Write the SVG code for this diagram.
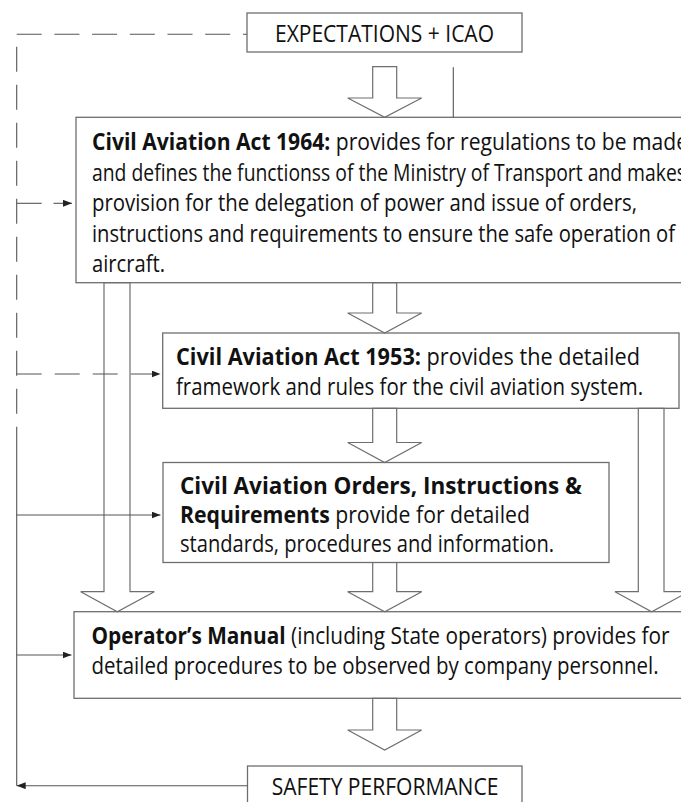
<svg xmlns="http://www.w3.org/2000/svg" width="681" height="802" viewBox="0 0 681 802">
  <style>
    .box { fill: #ffffff; stroke: #6e6e6e; stroke-width: 1.3; }
    .hollow { fill: none; stroke: #6e6e6e; stroke-width: 1.2; stroke-linejoin: miter; }
    .txt { font-family: "Open Sans", "Noto Sans", "Liberation Sans", sans-serif; font-size: 24px; fill: #111111; }
    .cap { font-family: "Open Sans", "Noto Sans", "Liberation Sans", sans-serif; font-size: 23.5px; fill: #111111; }
    .b { font-weight: bold; }
    .ln { fill: none; stroke: #555555; stroke-width: 1.1; }
    .dash { stroke-dasharray: 25 13; }
  </style>
  <defs>
    <marker id="ah" markerUnits="userSpaceOnUse" markerWidth="9" markerHeight="7" refX="9" refY="3.5" orient="auto">
      <path d="M0,0 L9,3.5 L0,7 z" fill="#222222"/>
    </marker>
  </defs>

  <rect width="681" height="802" fill="#ffffff"/>

  <!-- boxes -->
  <g id="expectations">
    <rect class="box" x="247" y="13" width="275" height="39"/>
    <text class="cap" x="275" y="41.7" textLength="219" lengthAdjust="spacingAndGlyphs">EXPECTATIONS + ICAO</text>
  </g>

  <g id="act1964">
    <rect class="box" x="76" y="117.3" width="620" height="165.4"/>
    <text class="txt" x="92" y="150" textLength="596" lengthAdjust="spacingAndGlyphs"><tspan class="b">Civil Aviation Act 1964:</tspan> provides for regulations to be made</text>
    <text class="txt" x="92" y="180.5" textLength="594" lengthAdjust="spacingAndGlyphs">and defines the functionss of the Ministry of Transport and makes</text>
    <text class="txt" x="92" y="211" textLength="545" lengthAdjust="spacingAndGlyphs">provision for the delegation of power and issue of orders,</text>
    <text class="txt" x="92" y="241.5" textLength="583" lengthAdjust="spacingAndGlyphs">instructions and requirements to ensure the safe operation of</text>
    <text class="txt" x="92" y="272" textLength="73" lengthAdjust="spacingAndGlyphs">aircraft.</text>
  </g>

  <g id="act1953">
    <rect class="box" x="162.7" y="333" width="516.3" height="75.3"/>
    <text class="txt" x="176" y="365" textLength="464" lengthAdjust="spacingAndGlyphs"><tspan class="b">Civil Aviation Act 1953:</tspan> provides the detailed</text>
    <text class="txt" x="176" y="395" textLength="467" lengthAdjust="spacingAndGlyphs">framework and rules for the civil aviation system.</text>
  </g>

  <g id="orders">
    <rect class="box" x="163" y="462.5" width="446" height="100"/>
    <text class="txt" x="180" y="493.5" textLength="402" lengthAdjust="spacingAndGlyphs"><tspan class="b">Civil Aviation Orders, Instructions &amp;</tspan></text>
    <text class="txt" x="180" y="522.5" textLength="350" lengthAdjust="spacingAndGlyphs"><tspan class="b">Requirements</tspan> provide for detailed</text>
    <text class="txt" x="180" y="551.5" textLength="374" lengthAdjust="spacingAndGlyphs">standards, procedures and information.</text>
  </g>

  <g id="operator">
    <rect class="box" x="74" y="611.7" width="622" height="86.6"/>
    <text class="txt" x="91.5" y="643.5" textLength="578" lengthAdjust="spacingAndGlyphs"><tspan class="b">Operator’s Manual</tspan> (including State operators) provides for</text>
    <text class="txt" x="91.5" y="673.5" textLength="567" lengthAdjust="spacingAndGlyphs">detailed procedures to be observed by company personnel.</text>
  </g>

  <g id="safety">
    <rect class="box" x="247.5" y="766" width="274.5" height="50"/>
    <text class="cap" x="271.7" y="795" textLength="226.7" lengthAdjust="spacingAndGlyphs">SAFETY PERFORMANCE</text>
  </g>

  <!-- connectors -->
  <g id="connectors">
    <!-- hollow block arrows down the centre -->
    <path class="hollow" d="M372.7,66.7 H396.7 V98 H421.7 L384.7,117.3 L347.7,98 H372.7 Z"/>
    <path class="hollow" d="M372.7,282.7 H396.7 V313 H421.7 L384.7,333 L347.7,313 H372.7 Z"/>
    <path class="hollow" d="M372.7,408.3 H396.7 V442.5 H421.7 L384.7,462.5 L347.7,442.5 H372.7 Z"/>
    <path class="hollow" d="M372.7,562.5 H396.7 V591.7 H421.7 L384.7,611.7 L347.7,591.7 H372.7 Z"/>
    <path class="hollow" d="M372.7,698.3 H396.7 V730 H421.7 L384.7,750 L347.7,730 H372.7 Z"/>

    <!-- long bypass arrows -->
    <path class="hollow" d="M104,282.7 H130 V591.7 H154.3 L117.3,611.7 L80.7,591.7 H104 Z"/>
    <path class="hollow" d="M638.3,408.3 H664 V591.7 H688.7 L651.7,611.7 L615,591.7 H638.3 Z"/>

    <!-- thin line beside the first arrow -->
    <line class="ln" x1="453.3" y1="67.3" x2="453.3" y2="117.3"/>

    <!-- feedback loop on the left -->
    <line class="ln dash" x1="16.7" y1="34.3" x2="247" y2="34.3" style="stroke-dasharray:25 12.7"/>
    <line class="ln dash" x1="16.7" y1="46.7" x2="16.7" y2="414"/>
    <line class="ln" x1="16.7" y1="426.7" x2="16.7" y2="785.7"/>
    <line class="ln" x1="247.5" y1="785.7" x2="16.7" y2="785.7" marker-end="url(#ah)"/>

    <!-- feeds into each box -->
    <line class="ln" x1="16.7" y1="203.3" x2="41.7" y2="203.3"/>
    <line class="ln" x1="53.5" y1="203.3" x2="72" y2="203.3" marker-end="url(#ah)"/>
    <line class="ln dash" x1="16.7" y1="374" x2="160.5" y2="374" marker-end="url(#ah)"/>
    <line class="ln" x1="16.7" y1="515" x2="160.5" y2="515" marker-end="url(#ah)"/>
    <line class="ln" x1="16.7" y1="655" x2="71.5" y2="655" marker-end="url(#ah)"/>
  </g>
</svg>
